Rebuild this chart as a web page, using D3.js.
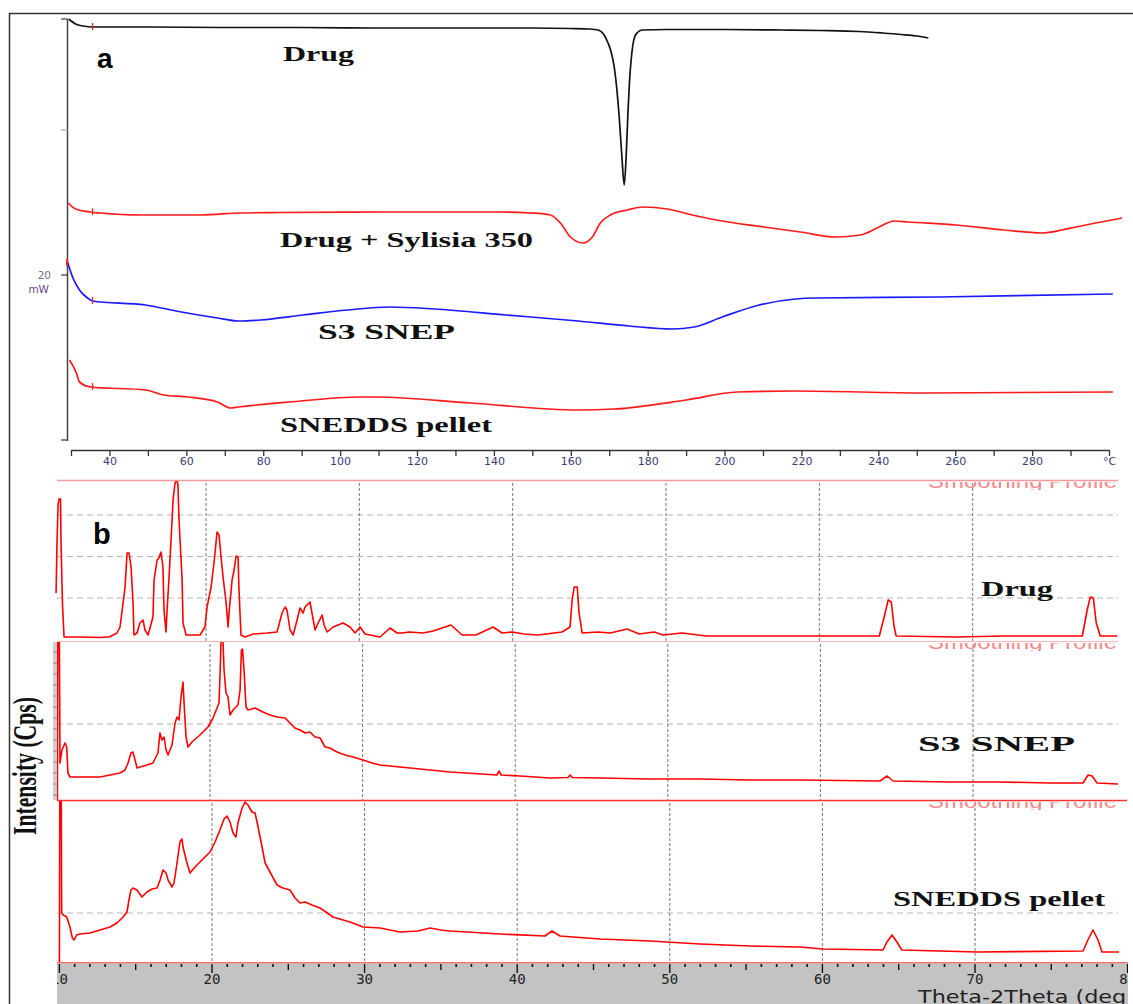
<!DOCTYPE html>
<html>
<head>
<meta charset="utf-8">
<script src="https://cdn.jsdelivr.net/npm/d3@7"></script>
<style>
  body { margin: 0; background: #fff; }
  svg { display: block; }
</style>
</head>
<body>
<svg id="chart" width="1133" height="1004"></svg>
<script>
// ---------------- DSC data (temperature degC, heat flow a.u.) ----------------
const dscTickLabels = [40, 60, 80, 100, 120, 140, 160, 180, 200, 220, 240, 260, 280];
const dscYTicks = [42.1, 31.0, 16.5, 0];   // heat flow positions of the y ticks
const dscMarkerTemp = 35.6;

const dscDrug = [[29.4,42.1],[31.2,41.6],[33.2,41.4],[35.6,41.3],[50,41.3],[70,41.25],[90,41.25],[110,41.2],
  [130,41.2],[150,41.2],[160,41.15],[165,41.1],[167.1,41.0],[168.5,40.6],[169.7,39.7],[170.5,38.8],[171.3,37.3],
  [172.0,35.0],[172.6,32.3],[173.3,28.3],[173.9,25.5],[174.4,28.3],[174.9,33.0],[175.3,36.0],[175.7,38.0],
  [176.6,40.3],[177.5,40.8],[178.6,41.0],[185,41.05],[200,41.05],[215,41.0],[225,40.95],[235,40.85],[241,40.7],
  [246,40.55],[250,40.4],[253,40.2]];

const dscDrugSylisia = [[29.3,23.7],[31.2,23.1],[35.1,22.8],[37.7,22.7],[48.1,22.5],[63.7,22.5],[74.1,22.7],
  [84.5,22.75],[110.5,22.8],[141.7,22.8],[149.5,22.7],[154.7,22.5],[157.3,21.7],[159.9,20.3],[163.2,19.7],
  [165.6,20.3],[167.7,21.7],[170.3,22.5],[174.7,23.0],[178.8,23.3],[185.1,23.1],[191.6,22.5],[197.8,22.0],
  [210.3,21.3],[219.7,20.8],[229.0,20.3],[235.3,20.5],[240.2,21.3],[244.1,21.9],[247.7,21.8],[260.2,21.5],
  [272.7,21.0],[282.6,20.7],[287.8,21.0],[291.4,21.3],[303.4,22.2]];

const dscS3Snep = [[29.1,17.8],[30.4,16.3],[32.2,15.0],[34.3,14.2],[35.6,13.9],[49.4,13.5],[58.7,12.8],[68.1,12.2],
  [73.5,11.9],[79.3,12.0],[90.4,12.5],[101.9,13.0],[113.1,13.3],[124.5,13.1],[143.2,12.5],[161.9,11.9],
  [175.2,11.4],[186.4,11.1],[192.1,11.3],[199.4,12.3],[209.0,13.5],[218.4,14.1],[223.8,14.2],[255.8,14.3],
  [301.0,14.6]];

const dscPellet = [[29.6,8.0],[31.4,6.7],[32.2,5.8],[35.1,5.3],[49.4,5.0],[54.0,4.5],[60.5,4.3],[68.1,3.8],
  [71.5,3.2],[73.5,3.3],[86.8,3.8],[105.5,4.3],[109.4,4.3],[133.9,3.7],[161.9,3.0],[171.3,3.1],[190.0,4.0],
  [203.3,4.8],[218.4,4.9],[252.2,4.7],[301.0,4.8]];

// ---------------- XRD data (2theta deg, intensity cps) ----------------
const xrdGridAngles = [20, 30, 40, 50, 60, 70];
const xrdAxisAngles = [10, 20, 30, 40, 50, 60, 70, 80];

const xrdDrug = [[10.22,490],[10.28,990],[10.35,1370],[10.41,1430],[10.51,1430],[10.54,1020],[10.64,370],[10.74,50],
  [11.78,50],[13.09,45],[13.74,53],[14.19,90],[14.39,150],[14.59,390],[14.72,550],[14.85,890],[14.98,890],
  [15.11,750],[15.24,390],[15.30,70],[15.50,90],[15.69,190],[15.89,220],[16.02,120],[16.22,70],[16.54,250],
  [16.61,620],[16.81,820],[16.93,840],[17.06,900],[17.19,750],[17.26,320],[17.39,100],[17.46,320],[17.59,650],
  [17.78,1200],[17.85,1420],[17.98,1590],[18.11,1620],[18.17,1570],[18.24,1220],[18.44,620],[18.50,190],
  [18.70,70],[19.61,70],[19.93,150],[20.07,350],[20.33,550],[20.52,790],[20.72,1100],[20.85,1070],[20.98,850],
  [21.11,650],[21.31,390],[21.44,150],[21.50,290],[21.70,620],[21.83,720],[21.96,860],[22.09,850],[22.15,520],
  [22.28,70],[22.54,50],[23.07,80],[23.98,90],[24.63,100],[24.96,290],[25.16,350],[25.28,320],[25.48,120],
  [25.68,70],[25.94,220],[26.13,340],[26.33,290],[26.46,350],[26.78,400],[26.91,290],[27.11,120],[27.31,190],
  [27.57,270],[27.70,170],[27.90,100],[28.29,150],[28.94,190],[29.39,150],[29.72,90],[30.05,150],[30.37,80],
  [31.35,50],[32.00,140],[32.46,90],[32.79,90],[33.24,100],[34.16,90],[34.81,110],[35.98,170],[36.70,70],
  [37.61,70],[38.72,150],[39.31,90],[39.96,100],[40.74,80],[41.66,70],[43.22,100],[43.74,150],[43.88,420],
  [44.01,550],[44.21,550],[44.33,290],[44.53,90],[45.57,100],[46.36,90],[47.47,130],[48.25,80],[49.23,100],
  [49.81,70],[51.05,90],[52.62,60],[56.40,60],[63.91,60],[64.23,250],[64.49,420],[64.69,400],[64.88,150],
  [65.01,60],[68.93,50],[72.06,60],[77.15,60],[77.47,320],[77.67,450],[77.87,440],[78.06,190],[78.32,60],
  [79.43,60]];

const xrdS3Snep = [[10.00,0],[10.04,2500],[10.10,2500],[10.17,370],[10.30,500],[10.50,570],[10.61,530],[10.69,270],
  [10.83,230],[11.68,230],[12.79,230],[13.45,250],[14.10,270],[14.43,300],[14.63,370],[14.82,470],[14.95,480],
  [15.09,400],[15.22,320],[15.41,330],[15.87,350],[16.26,370],[16.59,470],[16.72,670],[16.85,600],[16.99,630],
  [17.12,500],[17.25,450],[17.51,550],[17.71,770],[17.84,830],[17.97,800],[18.10,1030],[18.23,1180],[18.30,970],
  [18.43,630],[18.56,530],[18.82,580],[19.34,650],[19.87,730],[20.20,820],[20.46,920],[20.59,970],[20.69,1400],
  [20.75,1750],[20.85,1600],[20.92,1300],[21.05,1070],[21.18,1030],[21.31,850],[21.51,900],[21.83,950],
  [21.97,1100],[22.06,1500],[22.13,1510],[22.23,1300],[22.36,930],[22.49,900],[22.95,920],[23.47,880],
  [23.93,850],[24.39,830],[24.92,820],[25.24,770],[25.57,720],[25.90,700],[26.23,670],[26.55,680],[26.88,630],
  [27.21,620],[27.54,530],[27.86,520],[28.32,480],[28.85,450],[29.37,430],[30.03,400],[30.62,370],[31.14,350],
  [31.80,340],[32.45,330],[35.73,280],[38.80,250],[38.94,290],[39.08,250],[40.32,240],[42.29,220],[43.45,225],
  [43.60,250],[43.75,225],[45.56,220],[48.83,210],[52.11,210],[55.39,200],[58.66,200],[63.91,190],[64.37,240],
  [64.76,190],[68.49,180],[71.77,180],[75.04,170],[77.21,170],[77.54,250],[77.80,240],[78.13,170],[79.50,160]];

const xrdPellet = [[10.00,0],[10.04,2500],[10.10,2500],[10.15,490],[10.26,470],[10.48,450],[10.69,350],[10.85,240],
  [10.96,220],[11.13,270],[11.35,280],[12.01,290],[12.66,320],[13.32,350],[13.77,390],[14.17,450],[14.43,500],
  [14.56,620],[14.69,720],[14.82,740],[15.08,720],[15.41,650],[15.74,700],[16.07,730],[16.40,740],[16.60,820],
  [16.79,920],[16.99,890],[17.12,820],[17.38,750],[17.51,790],[17.71,990],[17.90,1200],[18.03,1230],[18.10,1150],
  [18.36,990],[18.56,890],[18.89,950],[19.21,1000],[19.54,1050],[19.87,1100],[20.20,1200],[20.52,1320],
  [20.79,1430],[20.98,1460],[21.18,1400],[21.38,1290],[21.57,1250],[21.70,1390],[21.97,1540],[22.16,1600],
  [22.36,1570],[22.62,1500],[22.82,1490],[23.02,1350],[23.28,1150],[23.48,990],[23.80,900],[24.26,770],
  [24.65,740],[25.11,720],[25.44,640],[25.77,590],[26.10,600],[26.55,570],[27.08,540],[27.93,450],[29.04,400],
  [29.90,350],[31.01,340],[32.32,300],[33.50,310],[34.29,340],[35.00,320],[35.60,310],[38.87,280],[41.82,260],
  [42.28,310],[42.80,260],[45.43,230],[48.70,210],[51.98,180],[55.26,160],[58.53,150],[60.04,130],[63.97,120],
  [64.23,200],[64.56,270],[64.88,200],[65.21,120],[70.13,100],[77.08,110],[77.40,220],[77.73,320],[78.06,220],
  [78.32,100],[79.83,100]];

const xrdGridDrug = [440, 855, 1270];
const xrdGridS3 = [760];
const xrdGridPellet = [490];

// ---------------- layout ----------------
const svg = d3.select("#chart");
const serif = "'Liberation Serif', 'Times New Roman', serif";
const sans = "'Liberation Sans', Arial, sans-serif";

const xDsc = d3.scaleLinear().domain([30, 300]).range([71, 1109]);
const yDsc = d3.scaleLinear().domain([0, 42.1]).range([440, 19]);

// outer frame
svg.append("path").attr("d", "M9.5,1004V13.5H1133")
  .attr("fill", "none").attr("stroke", "#333").attr("stroke-width", 1.5);

// ---------------- panel a : DSC ----------------
const gDsc = svg.append("g");

// y axis
gDsc.append("line").attr("x1", 67.5).attr("x2", 67.5)
  .attr("y1", yDsc(42.1)).attr("y2", yDsc(-0.1))
  .attr("stroke", "#444").attr("stroke-width", 1.5);
gDsc.selectAll(".ytick").data(dscYTicks).join("line")
  .attr("x1", 61).attr("x2", 67.5)
  .attr("y1", d => yDsc(d)).attr("y2", d => yDsc(d))
  .attr("stroke", (d, i) => i === 1 ? "#aaa" : "#444").attr("stroke-width", 1.3);
gDsc.append("text").attr("x", 51).attr("y", yDsc(16.5) + 4)
  .attr("text-anchor", "end").attr("font-family", "'DejaVu Sans', sans-serif")
  .attr("font-size", 10.5).attr("fill", "#7a6a80").text("20");
gDsc.append("text").attr("x", 49).attr("y", yDsc(16.5) + 18)
  .attr("text-anchor", "end").attr("font-family", "'DejaVu Sans', sans-serif")
  .attr("font-size", 10.5).attr("fill", "#6a4a8a").text("mW");

// x axis
const xAxis = d3.axisBottom(xDsc)
  .tickValues(d3.range(30, 301, 10))
  .tickSize(6).tickSizeOuter(0)
  .tickFormat(d => d === 300 ? "°C" : (dscTickLabels.includes(d) ? d : ""));
const gx = gDsc.append("g").attr("transform", "translate(0,450)").call(xAxis);
gx.select(".domain").attr("stroke", "#333").attr("stroke-width", 1.6);
gx.selectAll(".tick line").attr("stroke", "#333").attr("stroke-width", 1.3);
gx.selectAll(".tick text").attr("font-family", "'DejaVu Sans', sans-serif")
  .attr("font-size", 11).attr("fill", "#3b3b78").attr("dy", "0.55em");

// curves
const dscLine = d3.line().x(d => xDsc(d[0])).y(d => yDsc(d[1])).curve(d3.curveMonotoneX);
const dscSeries = [
  { data: dscDrug, color: "#111" },
  { data: dscDrugSylisia, color: "#ff1a1a" },
  { data: dscS3Snep, color: "#1a1aff" },
  { data: dscPellet, color: "#ff1a1a" }
];
function interp(data, t) {
  const i = d3.bisector(d => d[0]).left(data, t);
  if (i <= 0) return data[0][1];
  if (i >= data.length) return data[data.length - 1][1];
  const a = data[i - 1], b = data[i];
  return a[1] + (b[1] - a[1]) * (t - a[0]) / (b[0] - a[0]);
}
dscSeries.forEach(s => {
  gDsc.append("path").attr("d", dscLine(s.data))
    .attr("fill", "none").attr("stroke", s.color).attr("stroke-width", 1.7);
  const v = interp(s.data, dscMarkerTemp);
  gDsc.append("line")
    .attr("x1", xDsc(dscMarkerTemp)).attr("x2", xDsc(dscMarkerTemp))
    .attr("y1", yDsc(v) - 4).attr("y2", yDsc(v) + 3)
    .attr("stroke", "#ff2020").attr("stroke-width", 1.3);
});
// start marker on the S3 SNEP trace
gDsc.append("line")
  .attr("x1", xDsc(dscS3Snep[0][0]) - 0.5).attr("x2", xDsc(dscS3Snep[0][0]) - 0.5)
  .attr("y1", yDsc(dscS3Snep[0][1]) - 3).attr("y2", yDsc(dscS3Snep[0][1]) + 4)
  .attr("stroke", "#ff2020").attr("stroke-width", 2);

// labels
const dscLabels = [
  { text: "Drug", x: 283, y: 61, w: 71 },
  { text: "Drug + Sylisia 350", x: 280, y: 247, w: 253 },
  { text: "S3 SNEP", x: 318, y: 339, w: 137 },
  { text: "SNEDDS pellet", x: 280, y: 432, w: 212 }
];
gDsc.selectAll(".dsclab").data(dscLabels).join("text")
  .attr("x", d => d.x).attr("y", d => d.y)
  .attr("textLength", d => d.w).attr("lengthAdjust", "spacingAndGlyphs")
  .attr("font-family", serif).attr("font-weight", "bold").attr("font-size", 21)
  .attr("fill", "#111").text(d => d.text);

svg.append("text").attr("x", 97).attr("y", 68)
  .attr("font-family", sans).attr("font-weight", "bold").attr("font-size", 28).text("a");

// ---------------- panel b : XRD ----------------
const xrdPanels = [
  { data: xrdDrug, grid: xrdGridDrug, label: "Drug" },
  { data: xrdS3Snep, grid: xrdGridS3, label: "S3 SNEP" },
  { data: xrdPellet, grid: xrdGridPellet, label: "SNEDDS pellet" }
];
const xrdLayout = [
  { r0: 52.7, r1: 1126, top: 481, bottom: 642, max: 1610, lx: 981, ly: 596, lw: 72 },
  { r0: 57.4, r1: 1125.6, top: 642, bottom: 800, max: 1580, lx: 918, ly: 751, lw: 157 },
  { r0: 59.4, r1: 1127.6, top: 801, bottom: 962, max: 1610, lx: 893, ly: 906, lw: 212 }
];
const defs = svg.append("defs");

xrdPanels.forEach((p, i) => {
  const L = xrdLayout[i];
  const x = d3.scaleLinear().domain([10, 80]).range([L.r0, L.r1]);
  const y = d3.scaleLinear().domain([0, L.max]).range([L.bottom, L.top]);
  const g = svg.append("g");

  defs.append("clipPath").attr("id", "clip" + i)
    .append("rect").attr("x", 52).attr("y", L.top).attr("width", 1067).attr("height", L.bottom - L.top);
  defs.append("clipPath").attr("id", "sclip" + i)
    .append("rect").attr("x", 900).attr("y", L.top + 1).attr("width", 218).attr("height", 8);

  // horizontal dashed grid
  g.selectAll(".hg").data(p.grid).join("line")
    .attr("x1", 57).attr("x2", 1118).attr("y1", d => y(d)).attr("y2", d => y(d))
    .attr("stroke", "#b5b5b5").attr("stroke-dasharray", "6,4");
  // vertical dashed grid
  g.selectAll(".vg").data(xrdGridAngles).join("line")
    .attr("x1", d => x(d)).attr("x2", d => x(d)).attr("y1", L.top + 2).attr("y2", L.bottom)
    .attr("stroke", "#777").attr("stroke-dasharray", "3,2");

  // "Smoothing Profile" caption, top half hidden under the frame
  g.append("text").attr("clip-path", "url(#sclip" + i + ")")
    .attr("x", 928).attr("y", L.top + 7)
    .attr("textLength", 189).attr("lengthAdjust", "spacingAndGlyphs")
    .attr("font-family", sans).attr("font-size", 20).attr("fill", "#f58a8a")
    .text("Smoothing Profile");

  const line = d3.line().x(d => x(d[0])).y(d => y(d[1]));
  g.append("path").attr("d", line(p.data)).attr("clip-path", "url(#clip" + i + ")")
    .attr("fill", "none").attr("stroke", "#ff0000").attr("stroke-width", 1.6)
    .attr("stroke-linejoin", "round");

  g.append("text").attr("x", L.lx).attr("y", L.ly)
    .attr("textLength", L.lw).attr("lengthAdjust", "spacingAndGlyphs")
    .attr("font-family", serif).attr("font-weight", "bold").attr("font-size", 21)
    .attr("fill", "#111").text(p.label);
});

// panel separators
svg.append("line").attr("x1", 57).attr("x2", 1118).attr("y1", 480.5).attr("y2", 480.5)
  .attr("stroke", "#f29a9a").attr("stroke-width", 1.6);
svg.append("line").attr("x1", 57).attr("x2", 1118).attr("y1", 641.5).attr("y2", 641.5)
  .attr("stroke", "#f7b8b8").attr("stroke-width", 1.2);
svg.append("line").attr("x1", 57).attr("x2", 1127).attr("y1", 800.5).attr("y2", 800.5)
  .attr("stroke", "#ff3030").attr("stroke-width", 1.6);

// left scale strip of the middle panel
svg.append("rect").attr("x", 53).attr("y", 642).attr("width", 4).attr("height", 158).attr("fill", "#cfcfcf");
svg.selectAll(".stk").data(d3.range(652, 800, 11)).join("line")
  .attr("x1", 53).attr("x2", 57).attr("y1", d => d).attr("y2", d => d)
  .attr("stroke", "#888").attr("stroke-width", 1);

svg.append("text").attr("x", 93).attr("y", 544)
  .attr("font-family", sans).attr("font-weight", "bold").attr("font-size", 29).text("b");

// y label
svg.append("text").attr("transform", "translate(36,835) rotate(-90)")
  .attr("textLength", 138).attr("lengthAdjust", "spacingAndGlyphs")
  .attr("font-family", serif).attr("font-weight", "bold").attr("font-size", 34)
  .attr("fill", "#111").text("Intensity (Cps)");

// bottom 2theta axis band
const xAx = d3.scaleLinear().domain([10, 80]).range([xrdLayout[2].r0, xrdLayout[2].r1]);
defs.append("clipPath").attr("id", "bandclip")
  .append("rect").attr("x", 57).attr("y", 962).attr("width", 1071).attr("height", 42);
const band = svg.append("g").attr("clip-path", "url(#bandclip)");
band.append("rect").attr("x", 57).attr("y", 962).attr("width", 1071).attr("height", 42).attr("fill", "#c3c3c3");
band.append("line").attr("x1", 57).attr("x2", 1128).attr("y1", 962.5).attr("y2", 962.5)
  .attr("stroke", "#ff6b6b").attr("stroke-width", 1.5);
band.selectAll(".btk").data(d3.range(10, 81, 1)).join("line")
  .attr("x1", d => xAx(d)).attr("x2", d => xAx(d))
  .attr("y1", 964).attr("y2", d => d % 10 === 0 ? 973 : (d % 5 === 0 ? 970 : 967))
  .attr("stroke", "#111").attr("stroke-width", d => d % 5 === 0 ? 1.4 : 1.6);
band.selectAll(".blab").data(xrdAxisAngles).join("text")
  .attr("x", d => xAx(d)).attr("y", 984).attr("text-anchor", "middle")
  .attr("font-family", "'DejaVu Sans Mono', monospace").attr("font-size", 14)
  .attr("fill", "#222").text(d => d);
band.append("text").attr("x", 918).attr("y", 1003)
  .attr("textLength", 217).attr("lengthAdjust", "spacingAndGlyphs")
  .attr("font-family", "'DejaVu Sans', sans-serif").attr("font-size", 17)
  .attr("fill", "#222").text("Theta-2Theta (deg)");
</script>
</body>
</html>
